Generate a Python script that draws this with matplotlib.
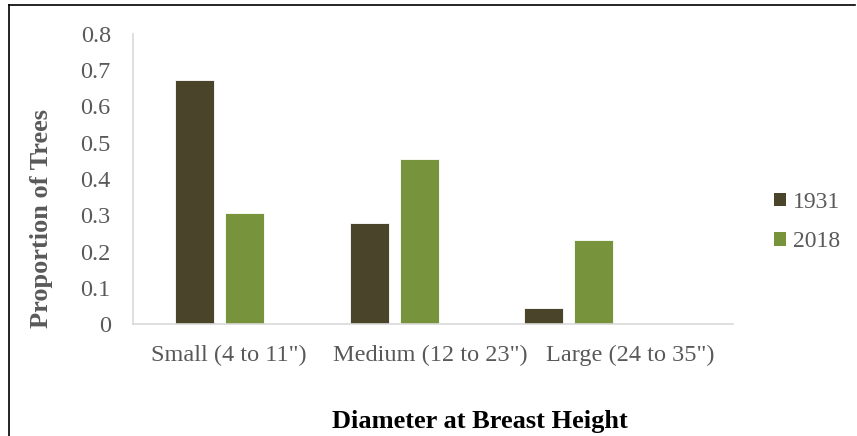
import matplotlib
matplotlib.use("Agg")
import matplotlib.pyplot as plt
from matplotlib.lines import Line2D
from matplotlib.patches import Patch

categories = ['Small (4 to 11")', 'Medium (12 to 23")', 'Large (24 to 35")']
years = ["1931", "2018"]
values_1931 = [0.673, 0.279, 0.043]
values_2018 = [0.305, 0.456, 0.232]
y_ticks = [0, 0.1, 0.2, 0.3, 0.4, 0.5, 0.6, 0.7, 0.8]
y_tick_labels = ["0", "0.1", "0.2", "0.3", "0.4", "0.5", "0.6", "0.7", "0.8"]

colors = ["#4a452a", "#77933c"]
tick_color = "#595959"

plt.rcParams["font.family"] = ["Liberation Serif", "DejaVu Serif"]

fig = plt.figure(figsize=(8.57, 4.36), dpi=100)
ax = fig.add_axes([133 / 857, 1 - 324 / 436, 600 / 857, 290 / 436])

# bar layout in category units (axis spans 0..3)
group_start = 0.21
group_step = 0.8725
bar_w = 0.195
bar_gap = 0.055
for i in range(len(categories)):
    left = group_start + i * group_step
    ax.bar(left, values_1931[i], width=bar_w, align="edge", color=colors[0],
           edgecolor="white", linewidth=0.6)
    ax.bar(left + bar_w + bar_gap, values_2018[i], width=bar_w, align="edge",
           color=colors[1], edgecolor="white", linewidth=0.6)

ax.set_xlim(0, 3)
ax.set_ylim(0, 0.8)
ax.set_yticks(y_ticks)
ax.set_yticklabels(y_tick_labels)
ax.set_xticks([0.48, 1.485, 2.485])
ax.set_xticklabels(categories)
ax.tick_params(axis="both", length=0, labelsize=17.5, colors=tick_color)
ax.tick_params(axis="y", pad=16)
ax.tick_params(axis="x", pad=15)
for side in ["top", "right"]:
    ax.spines[side].set_visible(False)
for side in ["left", "bottom"]:
    ax.spines[side].set_color("#d9d9d9")
    ax.spines[side].set_linewidth(1.2)

ax.set_ylabel("Proportion of Trees", fontsize=19, fontweight="bold", color=tick_color)
ax.yaxis.set_label_coords(-80 / 600, (324 - 219) / 290)

fig.text(480 / 857, 1 - 421 / 436, "Diameter at Breast Height", fontsize=19,
         fontweight="bold", color="black", ha="center", va="center")

handles = [Patch(facecolor=c, edgecolor="none") for c in colors]
leg = fig.legend(handles, years, loc="center left", bbox_to_anchor=(757 / 857, 1 - 222 / 436),
                 frameon=False, fontsize=17, handlelength=0.52, handleheight=0.52,
                 handletextpad=0.3, labelspacing=0.78, borderpad=0.2)
for t in leg.get_texts():
    t.set_color(tick_color)

# outer frame (top and left edges)
fig.add_artist(Line2D([9 / 857, 855 / 857], [1 - 5 / 436, 1 - 5 / 436],
                      transform=fig.transFigure, color="black", linewidth=1.2))
fig.add_artist(Line2D([9 / 857, 9 / 857], [1 - 5 / 436, 0],
                      transform=fig.transFigure, color="black", linewidth=1.2))

fig.savefig("out.png", dpi=100)
